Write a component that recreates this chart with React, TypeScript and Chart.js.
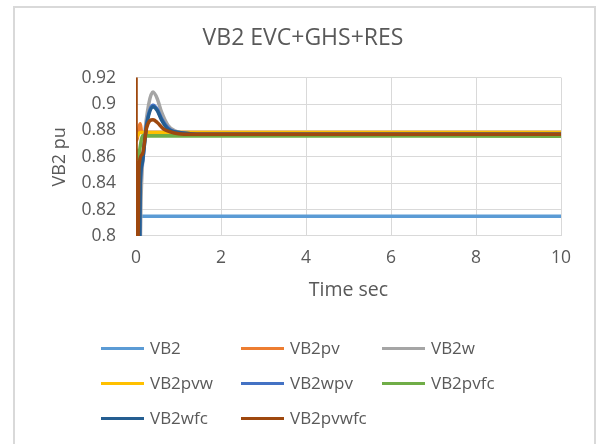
import React, { useEffect, useRef } from "react";
import { Chart, registerables } from "chart.js";

Chart.register(...registerables);

const chartTitle = "VB2 EVC+GHS+RES";
const xTitle = "Time sec";
const yTitle = "VB2 pu";
const xTicks = [0, 2, 4, 6, 8, 10];
const yTicks = [0.8, 0.82, 0.84, 0.86, 0.88, 0.9, 0.92];

const seriesNames = ["VB2", "VB2pv", "VB2w", "VB2pvw", "VB2wpv", "VB2pvfc", "VB2wfc", "VB2pvwfc"];
const seriesColors = ["#5B9BD5", "#ED7D31", "#A5A5A5", "#FFC000", "#4472C4", "#70AD47", "#255E91", "#9E480E"];

const tVB2 = [0, 0.06, 0.08, 10];
const vVB2 = [0.78, 0.78, 0.815, 0.815];

const tVB2pv = [0, 0.03, 0.1, 0.13, 0.2, 10];
const vVB2pv = [0.872, 0.874, 0.885, 0.879, 0.8785, 0.8785];

const tVB2w = [0, 0.09, 0.12, 0.2, 0.3, 0.4, 0.5, 0.6, 0.75, 0.9, 1.1, 1.5, 10];
const vVB2w = [0.78, 0.78, 0.83, 0.875, 0.9, 0.909, 0.904, 0.894, 0.884, 0.88, 0.878, 0.877, 0.877];

const tVB2pvw = [0, 0.05, 0.1, 10];
const vVB2pvw = [0.874, 0.877, 0.8785, 0.8785];

const tVB2wpv = [0, 0.08, 0.1, 0.15, 0.25, 0.4, 0.5, 0.6, 0.75, 0.9, 1.1, 1.5, 10];
const vVB2wpv = [0.78, 0.78, 0.838, 0.855, 0.885, 0.899, 0.896, 0.889, 0.882, 0.879, 0.878, 0.877, 0.877];

const tVB2pvfc = [0, 0.05, 0.1, 0.15, 10];
const vVB2pvfc = [0.866, 0.858, 0.868, 0.876, 0.8755];

const tVB2wfc = [0, 0.08, 0.1, 0.15, 0.25, 0.4, 0.5, 0.6, 0.75, 0.9, 1.1, 1.5, 10];
const vVB2wfc = [0.78, 0.78, 0.84, 0.856, 0.884, 0.898, 0.895, 0.888, 0.881, 0.879, 0.878, 0.877, 0.877];

const tVB2pvwfc = [0, 0.005, 0.04, 0.07, 0.15, 0.25, 0.4, 0.5, 0.65, 0.8, 1.0, 1.3, 10];
const vVB2pvwfc = [0.95, 0.78, 0.78, 0.853, 0.862, 0.882, 0.888, 0.886, 0.881, 0.879, 0.8775, 0.877, 0.877];

const seriesT = [tVB2, tVB2pv, tVB2w, tVB2pvw, tVB2wpv, tVB2pvfc, tVB2wfc, tVB2pvwfc];
const seriesV = [vVB2, vVB2pv, vVB2w, vVB2pvw, vVB2wpv, vVB2pvfc, vVB2wfc, vVB2pvwfc];

const FONT = "'Open Sans', sans-serif";
const TEXT = "#595959";
const GRID = "#d9d9d9";

export default function App() {
  const ref = useRef<HTMLCanvasElement | null>(null);

  useEffect(() => {
    if (!ref.current) return;
    const datasets = seriesNames.map((name, i) => ({
      label: name,
      data: seriesT[i].map((t, k) => ({ x: t, y: seriesV[i][k] })),
      borderColor: seriesColors[i],
      backgroundColor: seriesColors[i],
      borderWidth: 3.5,
      pointRadius: 0,
      fill: false,
      cubicInterpolationMode: "monotone" as const,
      order: seriesNames.length - i,
    }));
    const chart = new Chart(ref.current, {
      type: "line",
      data: { datasets },
      options: {
        animation: false,
        responsive: false,
        maintainAspectRatio: false,
        layout: { padding: { left: 45, right: 42, top: 0, bottom: 138 } },
        plugins: {
          legend: { display: false },
          tooltip: { enabled: false },
          title: {
            display: true,
            text: chartTitle,
            color: TEXT,
            font: { family: FONT, size: 23, weight: "normal" },
            padding: { top: 25, bottom: 25 },
          },
        },
        scales: {
          x: {
            type: "linear",
            min: 0,
            max: 10,
            afterBuildTicks: (s: any) => {
              s.ticks = xTicks.map((v) => ({ value: v }));
            },
            afterFit: (s: any) => {
              s.height = 70;
            },
            ticks: {
              color: TEXT,
              font: { family: FONT, size: 17.5 },
              padding: 12,
              maxRotation: 0,
            },
            grid: { color: GRID, drawTicks: false },
            border: { color: GRID },
            title: {
              display: true,
              text: xTitle,
              color: TEXT,
              font: { family: FONT, size: 19.5 },
            },
          },
          y: {
            type: "linear",
            min: 0.8,
            max: 0.92,
            afterBuildTicks: (s: any) => {
              s.ticks = yTicks.map((v) => ({ value: v }));
            },
            afterFit: (s: any) => {
              s.width = 91;
            },
            ticks: {
              color: TEXT,
              font: { family: FONT, size: 17.5 },
              padding: 20,
              callback: (v: any) => String(Math.round(Number(v) * 100) / 100),
            },
            grid: { color: GRID, drawTicks: false },
            border: { color: GRID },
            title: {
              display: true,
              text: yTitle,
              color: TEXT,
              font: { family: FONT, size: 18 },
            },
          },
        },
      },
    });
    return () => chart.destroy();
  }, []);

  const legendRows = [348, 383, 418];
  const legendCols = [101, 241, 382];

  return (
    <div style={{ position: "absolute", left: 0, top: 0, width: 603, height: 444, overflow: "hidden", background: "#fff" }}>
      <div
        style={{
          position: "absolute",
          left: 13,
          top: 6,
          width: 583,
          height: 470,
          border: "2px solid #d9d9d9",
          boxSizing: "border-box",
        }}
      />
      <canvas ref={ref} width={603} height={444} style={{ position: "absolute", left: 0, top: 0, width: 603, height: 444 }} />
      {seriesNames.map((name, i) => {
        const row = Math.floor(i / 3);
        const col = i % 3;
        const cy = legendRows[row];
        const lx = legendCols[col];
        return (
          <React.Fragment key={name}>
            <div
              style={{
                position: "absolute",
                left: lx,
                top: cy - 1.5,
                width: 43,
                height: 3,
                background: seriesColors[i],
              }}
            />
            <div
              style={{
                position: "absolute",
                left: lx + 49,
                top: cy - 12,
                height: 24,
                lineHeight: "24px",
                fontFamily: FONT,
                fontSize: 17,
                color: TEXT,
                whiteSpace: "nowrap",
              }}
            >
              {name}
            </div>
          </React.Fragment>
        );
      })}
    </div>
  );
}
